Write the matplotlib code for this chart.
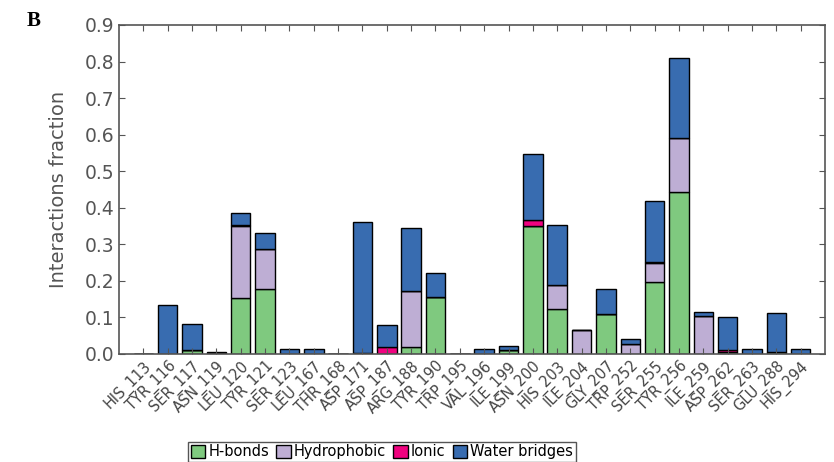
import numpy as np
import matplotlib
matplotlib.use('Agg')
import matplotlib.pyplot as plt

residues = ['HIS_113', 'TYR_116', 'SER_117', 'ASN_119', 'LEU_120', 'TYR_121', 'SER_123',
            'LEU_167', 'THR_168', 'ASP_171', 'ASP_187', 'ARG_188', 'TYR_190', 'TRP_195',
            'VAL_196', 'ILE_199', 'ASN_200', 'HIS_203', 'ILE_204', 'GLY_207', 'TRP_252',
            'SER_255', 'TYR_256', 'ILE_259', 'ASP_262', 'SER_263', 'GLU_288', 'HIS_294']

hbonds = [0.0, 0.0, 0.010, 0.0, 0.154, 0.178, 0.0,
          0.0, 0.0, 0.003, 0.0, 0.020, 0.156, 0.0,
          0.0, 0.010, 0.350, 0.123, 0.0, 0.110, 0.0,
          0.198, 0.444, 0.0, 0.005, 0.0, 0.005, 0.0]
hydrophobic = [0.0, 0.0, 0.0, 0.002, 0.196, 0.109, 0.0,
               0.0, 0.0, 0.0, 0.0, 0.152, 0.0, 0.0,
               0.0, 0.0, 0.0, 0.065, 0.066, 0.0, 0.028,
               0.050, 0.146, 0.104, 0.0, 0.0, 0.0, 0.0]
ionic = [0.0, 0.0, 0.0, 0.0, 0.002, 0.0, 0.0,
         0.0, 0.0, 0.0, 0.020, 0.0, 0.0, 0.0,
         0.0, 0.0, 0.016, 0.0, 0.0, 0.0, 0.0,
         0.003, 0.0, 0.0, 0.005, 0.0, 0.0, 0.0]
water = [0.0, 0.134, 0.071, 0.004, 0.034, 0.043, 0.015,
         0.015, 0.0, 0.357, 0.059, 0.173, 0.066, 0.0,
         0.015, 0.012, 0.180, 0.166, 0.0, 0.068, 0.012,
         0.167, 0.220, 0.012, 0.090, 0.013, 0.107, 0.015]

colors = ['#7fc97f', '#beaed4', '#f0027f', '#386cb0']
names = ['H-bonds', 'Hydrophobic', 'Ionic', 'Water bridges']
gray = '#555555'

fig = plt.figure(figsize=(8.34, 4.62), dpi=100)
ax = fig.add_axes([0.1427, 0.2338, 0.8465, 0.7121])

x = np.arange(len(residues))
bottom = np.zeros(len(residues))
for vals, c, n in zip([hbonds, hydrophobic, ionic, water], colors, names):
    vals = np.array(vals)
    ax.bar(x, vals, 0.8, bottom=bottom, color=c, edgecolor='black', linewidth=1.0, label=n)
    bottom += vals

ax.set_xlim(-1, len(residues))
ax.set_ylim(0, 0.9)
ax.set_yticks(np.arange(0, 0.91, 0.1))
ax.set_yticklabels(['%.1f' % v for v in np.arange(0, 0.91, 0.1)])
ax.set_xticks(x)
ax.set_xticklabels(residues, rotation=45, ha='right', rotation_mode='anchor', fontsize=10.5, color='#444444')
ax.tick_params(axis='both', direction='in', top=True, right=True, color=gray, length=4)
ax.tick_params(axis='x', pad=3)
ax.tick_params(axis='y', labelsize=13.5, labelcolor=gray)
for s in ax.spines.values():
    s.set_color(gray)
    s.set_linewidth(1.2)
ax.set_ylabel('Interactions fraction', fontsize=14, color=gray, labelpad=12)

fig.legend(loc='upper center', bbox_to_anchor=(0.458, 0.06), ncol=4, fontsize=10.5,
           handlelength=1.0, handleheight=1.0, handletextpad=0.2, columnspacing=0.5,
           borderpad=0.2, fancybox=False, edgecolor=gray, framealpha=1)

fig.text(0.032, 0.955, 'B', fontsize=15, fontweight='bold', family='Liberation Serif', va='center')

fig.savefig('out.png', dpi=100)
